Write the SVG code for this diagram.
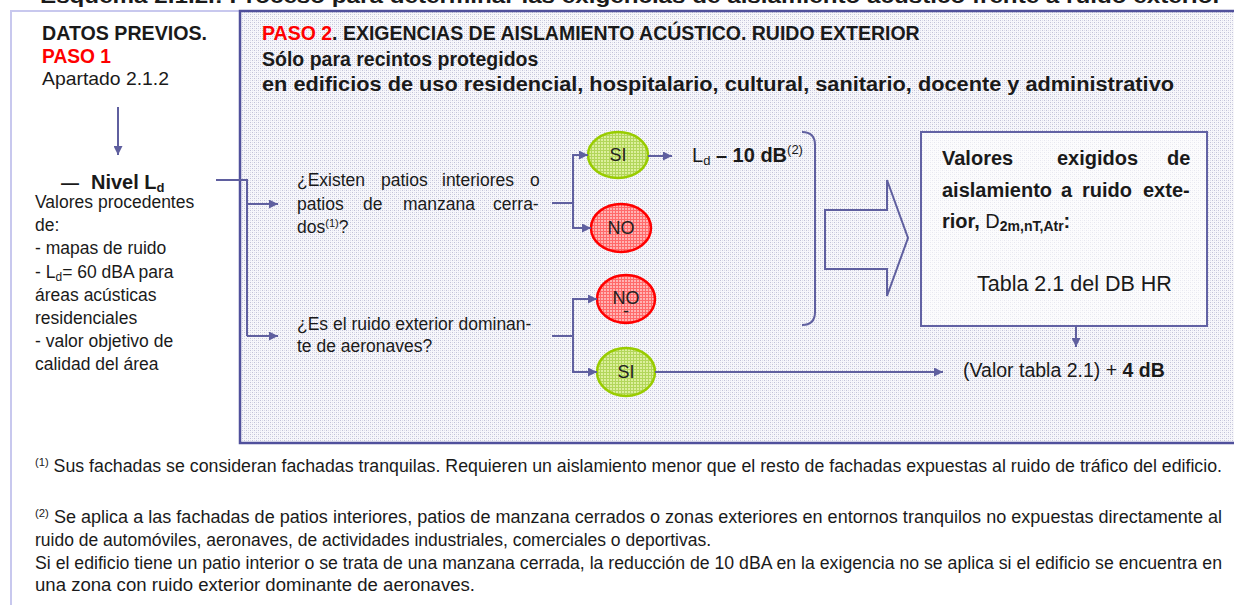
<svg xmlns="http://www.w3.org/2000/svg" width="1234" height="605" viewBox="0 0 1234 605">
<style>
text{font-family:"Liberation Sans",Arial,"Noto Sans",sans-serif;fill:#1a1a1a}
.b{font-weight:bold}
.red{fill:#ff0000}
.l{font-size:17.5px}
.h{font-size:19.5px;font-weight:bold}
.q{font-size:17.5px}
.bx{font-size:20px;font-weight:bold}
.fn{font-size:17.5px}
.lbl{font-size:18px;text-anchor:middle;fill:#222}
.con{fill:none;stroke:#5f5f9f;stroke-width:2}
.arr{marker-end:url(#ah)}
</style>
<defs>
<pattern id="bg" width="4" height="4" patternUnits="userSpaceOnUse">
<rect width="4" height="4" fill="#f7f7fb"/>
<rect x="0" y="0" width="1" height="1" fill="#c2c2d8"/>
<rect x="2" y="2" width="1" height="1" fill="#c2c2d8"/>
<rect x="2" y="0" width="1" height="1" fill="#dedeea"/>
<rect x="0" y="2" width="1" height="1" fill="#dedeea"/>
</pattern>
<pattern id="gr" width="3" height="3" patternUnits="userSpaceOnUse">
<rect width="3" height="3" fill="#dcef9c"/>
<path d="M0 0.5H3M0.5 0V3" stroke="#b2d65a" stroke-width="1"/>
</pattern>
<pattern id="rd" width="3" height="3" patternUnits="userSpaceOnUse">
<rect width="3" height="3" fill="#ffb3b3"/>
<path d="M0 0.5H3M0.5 0V3" stroke="#ff6a6a" stroke-width="1"/>
</pattern>
<marker id="ah" viewBox="0 0 10 10" refX="10" refY="5" markerWidth="10" markerHeight="9" markerUnits="userSpaceOnUse" orient="auto">
<path d="M0,0 L10,5 L0,10 z" fill="#5f5f9f"/>
</marker>
</defs>
<rect width="1234" height="605" fill="#ffffff"/>

<g id="title">
<text x="40" y="3" class="b" font-size="20" textLength="1182" lengthAdjust="spacingAndGlyphs">Esquema 2.1.2.: Proceso para determinar las exigencias de aislamiento acústico frente a ruido exterior</text>
</g>

<g id="frame">
<path d="M11 605 V11 H240" fill="none" stroke="#c8c8ee" stroke-width="2"/>
<rect x="240" y="11" width="1010" height="432" fill="url(#bg)" stroke="#50509c" stroke-width="2.5"/>
</g>

<g id="datos-previos">
<text x="42" y="40" class="b" font-size="20" textLength="165" lengthAdjust="spacingAndGlyphs">DATOS PREVIOS.</text>
<text x="42" y="63" class="b red" font-size="20" textLength="69" lengthAdjust="spacingAndGlyphs">PASO 1</text>
<text x="42" y="85" font-size="19" textLength="127" lengthAdjust="spacingAndGlyphs">Apartado 2.1.2</text>
</g>

<g id="nivel-ld">
<text x="61" y="189" class="b" font-size="18">—</text>
<text x="91" y="189" class="b" font-size="20">Nivel L<tspan font-size="13" dy="3">d</tspan></text>
<text x="35" y="208" class="l">Valores procedentes</text>
<text x="35" y="231" class="l">de:</text>
<text x="35" y="254" class="l">- mapas de ruido</text>
<text x="35" y="278" class="l">- L<tspan font-size="12" dy="3">d</tspan><tspan dy="-3">= 60 dBA para</tspan></text>
<text x="35" y="301" class="l">áreas acústicas</text>
<text x="35" y="324" class="l">residenciales</text>
<text x="35" y="347" class="l">- valor objetivo de</text>
<text x="35" y="370" class="l">calidad del área</text>
</g>

<g id="paso2-header">
<text x="262" y="40" class="h"><tspan class="red">PASO 2</tspan>. EXIGENCIAS DE AISLAMIENTO ACÚSTICO. RUIDO EXTERIOR</text>
<text x="262" y="66" class="h">Sólo para recintos protegidos</text>
<text x="262" y="91" class="h" textLength="912" lengthAdjust="spacingAndGlyphs">en edificios de uso residencial, hospitalario, cultural, sanitario, docente y administrativo</text>
</g>

<g id="pregunta-patios">
<text y="186" class="q"><tspan x="297">¿Existen</tspan><tspan x="381">patios</tspan><tspan x="442">interiores</tspan><tspan x="530">o</tspan></text>
<text y="210" class="q"><tspan x="297">patios</tspan><tspan x="363">de</tspan><tspan x="403">manzana</tspan><tspan x="493">cerra-</tspan></text>
<text x="297" y="233" class="q">dos<tspan font-size="11" dy="-6">(1)</tspan><tspan dy="6">?</tspan></text>
</g>

<g id="pregunta-aeronaves">
<text x="297" y="330" class="q">¿Es el ruido exterior dominan-</text>
<text x="297" y="352" class="q">te de aeronaves?</text>
</g>

<g id="si-1">
<ellipse cx="618" cy="155" rx="30" ry="23" fill="url(#gr)" stroke="#99cc00" stroke-width="2.5"/>
<text x="618" y="161" class="lbl">SI</text>
</g>
<g id="no-1">
<ellipse cx="621" cy="228" rx="30" ry="24" fill="url(#rd)" stroke="#ff0000" stroke-width="2.5"/>
<text x="621" y="234" class="lbl">NO</text>
</g>
<g id="no-2">
<ellipse cx="626" cy="299" rx="29" ry="24" fill="url(#rd)" stroke="#ff0000" stroke-width="2.5"/>
<text x="626" y="304" class="lbl">NO</text>
<text x="626" y="317" class="lbl" font-size="9">-</text>
</g>
<g id="si-2">
<ellipse cx="626" cy="372" rx="29" ry="24" fill="url(#gr)" stroke="#99cc00" stroke-width="2.5"/>
<text x="626" y="378" class="lbl">SI</text>
</g>

<g id="resultado-ld">
<text x="692" y="162" font-size="20">L<tspan font-size="13" dy="3">d</tspan><tspan dy="-3" class="b"> – 10 dB</tspan><tspan font-size="13" dy="-8">(2)</tspan></text>
</g>

<g id="valores-exigidos">
<rect x="921" y="132" width="286" height="194" fill="#ffffff" fill-opacity="0.6" stroke="#6262a4" stroke-width="2"/>
<text y="165" class="bx"><tspan x="942">Valores</tspan><tspan x="1057">exigidos</tspan><tspan x="1167">de</tspan></text>
<text y="197" class="bx"><tspan x="942">aislamiento</tspan><tspan x="1061">a</tspan><tspan x="1082">ruido</tspan><tspan x="1143">exte-</tspan></text>
<text x="942" y="228" class="bx">rior, <tspan font-weight="normal">D</tspan><tspan font-size="14" dy="3">2m,nT,Atr</tspan><tspan dy="-3">:</tspan></text>
<text x="977" y="291" font-size="21.5">Tabla 2.1 del DB HR</text>
</g>

<g id="resultado-aeronaves">
<text x="963" y="377" font-size="19.5">(Valor tabla 2.1) + <tspan class="b">4 dB</tspan></text>
</g>

<g id="connectors">
<path class="con arr" d="M118 107 V155"/>
<path class="con" d="M216 180 H247 V336"/>
<path class="con arr" d="M247 204 H278"/>
<path class="con arr" d="M247 336 H278"/>
<path class="con" d="M552 203 H573"/>
<path class="con arr" d="M573 203 V155 H588"/>
<path class="con arr" d="M573 203 V228 H591"/>
<path class="con" d="M552 336 H573"/>
<path class="con arr" d="M573 336 V299 H597"/>
<path class="con arr" d="M573 336 V372 H597"/>
<path class="con arr" d="M648 156 H672"/>
<path class="con arr" d="M655 372 H943"/>
<path class="con arr" d="M1076 326 V347"/>
<path class="con" d="M802 132 Q815 132 815 145 V312 Q815 325 802 325"/>
<polygon class="con" points="825,210 887,210 887,180 908,238 887,296 887,269 825,269"/>
</g>

<g id="notas">
<text x="35" y="472" class="fn" textLength="1187" lengthAdjust="spacingAndGlyphs"><tspan font-size="11" dy="-6">(1)</tspan><tspan dy="6"> Sus fachadas se consideran fachadas tranquilas. Requieren un aislamiento menor que el resto de fachadas expuestas al ruido de tráfico del edificio.</tspan></text>
<text x="35" y="523" class="fn" textLength="1187" lengthAdjust="spacingAndGlyphs"><tspan font-size="11" dy="-6">(2)</tspan><tspan dy="6"> Se aplica a las fachadas de patios interiores, patios de manzana cerrados o zonas exteriores en entornos tranquilos no expuestas directamente al</tspan></text>
<text x="35" y="546" class="fn">ruido de automóviles, aeronaves, de actividades industriales, comerciales o deportivas.</text>
<text x="35" y="569" class="fn" textLength="1187" lengthAdjust="spacingAndGlyphs">Si el edificio tiene un patio interior o se trata de una manzana cerrada, la reducción de 10 dBA en la exigencia no se aplica si el edificio se encuentra en</text>
<text x="35" y="591" class="fn" textLength="440" lengthAdjust="spacingAndGlyphs">una zona con ruido exterior dominante de aeronaves.</text>
</g>
</svg>
